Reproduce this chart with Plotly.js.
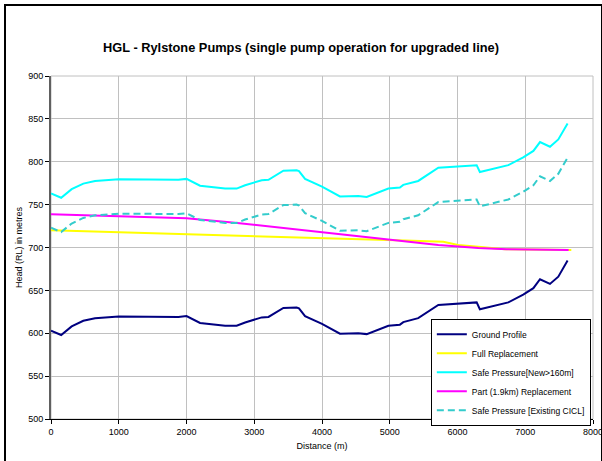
<!DOCTYPE html>
<html>
<head>
<meta charset="utf-8">
<script src="https://cdn.plot.ly/plotly-3.0.1.min.js"></script>
<style>
  html, body { margin: 0; padding: 0; background: #fff; }
  #wrap { position: relative; width: 602px; height: 461px; overflow: hidden; }
  #chart { width: 602px; height: 461px; }
  #frame { position: absolute; left: 4px; top: 4px; width: 595px; height: 460px;
           border-left: 2px solid #000; border-top: 2px solid #000; border-right: 1px solid #000;
           pointer-events: none; }
</style>
</head>
<body>
<div id="wrap"><div id="chart"></div><div id="frame"></div></div>
<script>
// Distance along pipeline (m)
const distance = [0,150,305,477,650,871,1000,1880,2000,2200,2570,2740,2865,3110,3210,3430,3625,3660,3750,4000,4265,4535,4660,4980,5050,5150,5200,5420,5717,6283,6330,6750,6970,7120,7218,7365,7488,7625];
// Ground Profile (RL m)
const groundProfile = [603,598,608,614.5,617.5,618.5,619.5,619,620,612,608.7,608.7,612.6,618.5,619,629.5,630,629,620,611,599.5,600,599,608.7,609,610,613,617.6,633,636,628,636,645,652.6,663,657.5,666,684.7];
// Safe Pressure [New>160m]
const safeNew = [763,758,768,774.5,777.5,778.5,779.5,779,780,772,768.7,768.7,772.6,778.5,779,789.5,790,789,780,771,759.5,760,759,768.7,769,770,773,777.6,793,796,788,796,805,812.6,823,817.5,826,844.7];
// Safe Pressure [Existing CICL]
const safeCICL = [723,718,728,734.5,737.5,738.5,739.5,739,740,732,728.7,728.7,732.6,738.5,739,749.5,750,749,740,731,719.5,720,719,728.7,729,730,733,737.6,753,756,748,756,765,772.6,783,777.5,786,804.7];
// Full Replacement
const fullDist = [0,2000,3675,5225,5790,6010,6307,6700,7680];
const fullRep = [720,715.7,712,708.1,706.6,703,701,698,697];
// Part (1.9km) Replacement
const partDist = [0,2000,2715,3675,5225,5717,6307,6725,7640];
const partRep = [738.7,734,729,720.5,707,703,699.5,698,697];

const names = ['Ground Profile','Full Replacement','Safe Pressure[New>160m]','Part (1.9km) Replacement','Safe Pressure [Existing CICL]'];

const traces = [
  {x: distance, y: groundProfile, name: names[0], mode: 'lines', line: {color: '#000080', width: 2}},
  {x: fullDist, y: fullRep, name: names[1], mode: 'lines', line: {color: '#FFFF00', width: 2}},
  {x: distance, y: safeNew, name: names[2], mode: 'lines', line: {color: '#00FFFF', width: 2}},
  {x: partDist, y: partRep, name: names[3], mode: 'lines', line: {color: '#FF00FF', width: 2}},
  {x: distance, y: safeCICL, name: names[4], mode: 'lines', line: {color: '#33CCCC', width: 2, dash: '7px,4px'}}
];

const font = 'Liberation Sans, Arial, sans-serif';
const layout = {
  width: 602, height: 461,
  margin: {l: 51, r: 9, t: 75.5, b: 41.5},
  paper_bgcolor: '#fff', plot_bgcolor: '#fff',
  font: {family: font, size: 9, color: '#000'},
  title: {text: '<b>HGL - Rylstone Pumps (single pump operation for upgraded line)</b>',
          font: {family: font, size: 12.8, color: '#000'}, x: 0.5, xanchor: 'center', y: 0.898, yanchor: 'middle'},
  xaxis: {range: [0, 8000], dtick: 1000, tick0: 0, showgrid: true, gridcolor: '#c0c0c0', gridwidth: 1,
          zeroline: false, showline: true, linecolor: '#000', linewidth: 1,
          ticks: 'outside', ticklen: 4, tickcolor: '#000', tickfont: {size: 9},
          ticklabeloverflow: 'allow',
          title: {text: 'Distance (m)', font: {size: 9}, standoff: 6}},
  yaxis: {range: [500, 900], dtick: 50, tick0: 500, showgrid: true, gridcolor: '#c0c0c0', gridwidth: 1,
          zeroline: false, showline: true, linecolor: '#606060', linewidth: 2,
          ticks: 'outside', ticklen: 4, tickcolor: '#000', tickfont: {size: 9},
          title: {text: 'Head (RL) in metres', font: {size: 9}, standoff: 4}},
  showlegend: true,
  legend: {x: 0.996, y: 0.292, xanchor: 'right', yanchor: 'top', bgcolor: '#fff',
           bordercolor: '#000', borderwidth: 1, font: {size: 8.5}, itemwidth: 30,
           tracegroupgap: 0},
  shapes: [{type: 'rect', xref: 'paper', yref: 'paper', x0: 0, x1: 1, y0: 0, y1: 1,
            line: {color: '#c0c0c0', width: 1}, layer: 'below'}]
};

Plotly.newPlot('chart', traces, layout, {displayModeBar: false, staticPlot: true});
</script>
</body>
</html>
